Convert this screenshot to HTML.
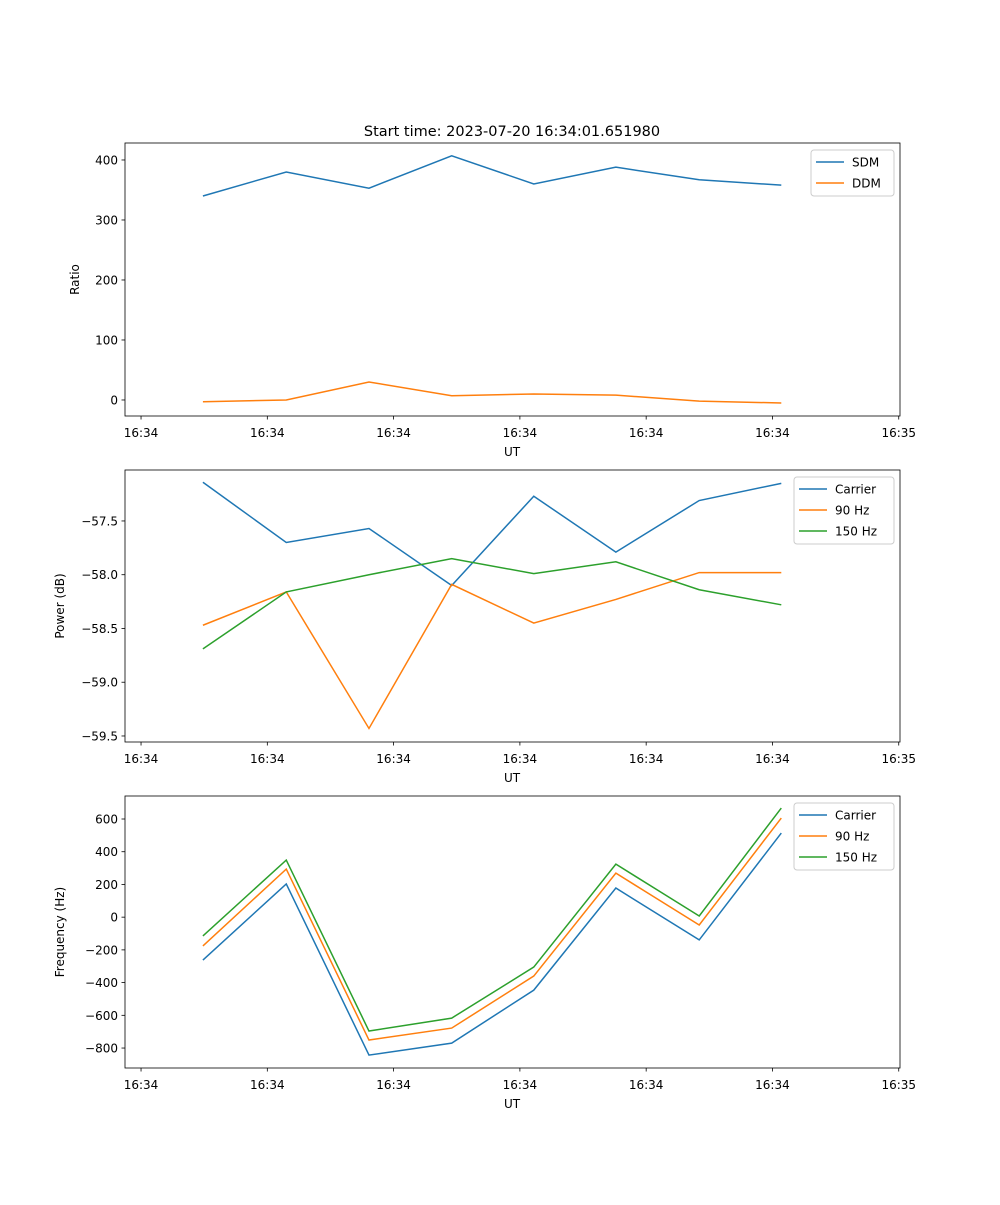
<!DOCTYPE html>
<html><head><meta charset="utf-8"><style>
body{margin:0;background:#fff}
svg text{font-family:"DejaVu Sans","Liberation Sans",sans-serif;fill:#000}
</style></head><body>
<svg id="chart" width="1000" height="1200" xmlns="http://www.w3.org/2000/svg"></svg>
<script>
const times=[4.9,11.5,18.05,24.6,31.1,37.6,44.2,50.7];
const xTicks=[0,10,20,30,40,50,60];
const xTickLabels=["16:34","16:34","16:34","16:34","16:34","16:34","16:35"];
const sdm=[340,380,353,407,360,388,367,358];
const ddm=[-3,0,30,7,10,8,-2,-5];
const pCarrier=[-57.14,-57.70,-57.57,-58.10,-57.27,-57.79,-57.31,-57.15];
const p90=[-58.47,-58.16,-59.43,-58.09,-58.45,-58.23,-57.98,-57.98];
const p150=[-58.69,-58.16,-58.0,-57.85,-57.99,-57.88,-58.14,-58.28];
const fCarrier=[-262,203,-843,-770,-446,178,-139,514];
const f90=[-176,294,-751,-678,-360,269,-48,606];
const f150=[-115,349,-696,-617,-305,324,7,667];
const ticks1=[0,100,200,300,400];
const ticks2=[-59.5,-59.0,-58.5,-58.0,-57.5];
const ticks3=[-800,-600,-400,-200,0,200,400,600];

const svg=document.getElementById('chart');
const NS="http://www.w3.org/2000/svg";
function mk(tag,attrs,parent){const e=document.createElementNS(NS,tag);for(const k in attrs)e.setAttribute(k,attrs[k]);(parent||svg).appendChild(e);return e;}
const X0=125,X1=900,xmin=-1.27,xmax=60.1;
const xs=t=>X0+(t-xmin)/(xmax-xmin)*(X1-X0);
const C=['#1f77b4','#ff7f0e','#2ca02c'];

function panel(name,top,bot,ymin,ymax,yt,fmt,ylabel,series,labels,legendW,title){
  const g=mk('g',{});
  
  
  const ys=v=>bot-(v-ymin)/(ymax-ymin)*(bot-top);
  series.forEach((s,i)=>{
    const p=mk('polyline',{points:s.map((v,j)=>xs(times[j])+','+ys(v)).join(' '),fill:'none',stroke:C[i],'stroke-width':1.5},g);
    
    
  });
  mk('rect',{x:X0,y:top,width:X1-X0,height:bot-top,fill:'none',stroke:'#000','stroke-width':0.8},g);
  xTicks.forEach((t,i)=>{
    const x=xs(t);
    mk('line',{x1:x,x2:x,y1:bot,y2:bot+3.5,stroke:'#000','stroke-width':0.8},g);
    const tx=mk('text',{x:x,y:bot+21,'text-anchor':'middle','font-size':12},g);tx.textContent=xTickLabels[i];
    
    
  });
  yt.forEach(v=>{
    const y=ys(v);
    mk('line',{x1:X0-3.5,x2:X0,y1:y,y2:y,stroke:'#000','stroke-width':0.8},g);
    const tx=mk('text',{x:X0-7,y:y+4.5,'text-anchor':'end','font-size':12},g);tx.textContent=fmt(v);
    
    
  });
  const xl=mk('text',{x:512,y:bot+40,'text-anchor':'middle','font-size':12},g);xl.textContent='UT';
  
  
  const yc=(top+bot)/2;
  const yl=mk('text',{x:0,y:0,'text-anchor':'middle','font-size':12,transform:`translate(${name==='ratio'?79:64},${yc}) rotate(-90)`},g);yl.textContent=ylabel;
  
  
  if(title){const tt=mk('text',{x:512,y:top-7,'text-anchor':'middle','font-size':14.5},g);tt.textContent=title;
    
    }
  const lx=X1-6-legendW, ly=top+7, lh=4+labels.length*21;
  const lg=mk('g',{},g);
  
  
  mk('rect',{x:lx,y:ly,width:legendW,height:lh,rx:3,fill:'#fff','fill-opacity':0.8,stroke:'#ccc'},lg);
  labels.forEach((l,i)=>{
    const y=ly+12+i*21;
    mk('line',{x1:lx+5,x2:lx+33,y1:y,y2:y,stroke:C[i],'stroke-width':1.5},lg);
    const tx=mk('text',{x:lx+41,y:y+4.5,'font-size':12},lg);tx.textContent=l;
    
    
  });
}
panel('ratio',143,416,-26.7,428.3,ticks1,v=>String(v),'Ratio',[sdm,ddm],['SDM','DDM'],83,'Start time: 2023-07-20 16:34:01.651980');
panel('power',470,742,-59.556,-57.026,ticks2,v=>v.toFixed(1).replace('-','\u2212'),'Power (dB)',[pCarrier,p90,p150],['Carrier','90 Hz','150 Hz'],100);
panel('frequency',796,1068,-922,740.6,ticks3,v=>String(v).replace('-','\u2212'),'Frequency (Hz)',[fCarrier,f90,f150],['Carrier','90 Hz','150 Hz'],100);
</script>
</body></html>
